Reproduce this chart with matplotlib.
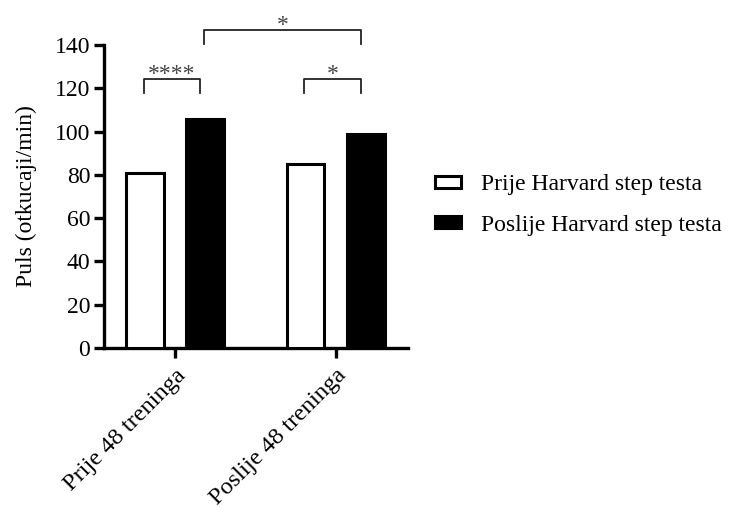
import matplotlib
matplotlib.use("Agg")
import matplotlib.pyplot as plt
import numpy as np

plt.rcParams["font.family"] = ["Liberation Serif", "DejaVu Serif"]

# ── data ──────────────────────────────────────────────────────────────────────
GROUPS = ["Prije 48 treninga", "Poslije 48 treninga"]
SERIES = ["Prije Harvard step testa", "Poslije Harvard step testa"]
PRIJE = [81, 85]
POSLIJE = [106, 99]

# (lijevi stupac, desni stupac, visina zagrade, oznaka)
BRACKETS = [
    ((0, 0), (0, 1), 124.5, "****"),
    ((1, 0), (1, 1), 124.5, "*"),
    ((0, 1), (1, 1), 147.0, "*"),
]

YTICKS = [0, 20, 40, 60, 80, 100, 120, 140]

# ── plot ──────────────────────────────────────────────────────────────────────
W, OFF = 0.235, 0.187
FS = 17

fig = plt.figure(figsize=(7.43, 5.07), dpi=100)
ax = fig.add_axes([0.140, 0.3136, 0.409, 0.5976])

x = np.arange(len(GROUPS))
ax.bar(x - OFF, PRIJE, W, color="white", edgecolor="black", linewidth=2.2,
       label=SERIES[0], zorder=3)
ax.bar(x + OFF, POSLIJE, W, color="black", edgecolor="black", linewidth=2.2,
       label=SERIES[1], zorder=3)

ax.set_xlim(-0.442, 1.450)
ax.set_ylim(0, 140)
ax.set_yticks(YTICKS)
ax.set_yticklabels([str(v) for v in YTICKS], fontsize=FS)
ax.set_xticks(x)
ax.set_xticklabels(GROUPS, fontsize=17.6, rotation=45, ha="right",
                   rotation_mode="anchor")
ax.set_ylabel("Puls (otkucaji/min)", fontsize=FS, labelpad=13)

for side in ["top", "right"]:
    ax.spines[side].set_visible(False)
for side in ["left", "bottom"]:
    ax.spines[side].set_linewidth(2.4)
ax.tick_params(axis="both", width=2.4, length=7, pad=3)
ax.tick_params(axis="x", pad=5)

# značajnost
def bar_x(g, s):
    return g + (OFF if s else -OFF)

for (g1, s1), (g2, s2), h, txt in BRACKETS:
    x1 = bar_x(g1, s1) - 0.008
    x2 = bar_x(g2, s2) - 0.03
    ax.plot([x1, x1, x2, x2], [h - 6.5, h, h, h - 6.5], color="#222",
            linewidth=1.3, clip_on=False, zorder=4)
    ax.text((x1 + x2) / 2, h - 3.0, txt, ha="center", va="bottom",
            fontsize=FS, color="#444", clip_on=False)

fig.legend(loc="center left", bbox_to_anchor=(0.586, 0.596), frameon=False,
           fontsize=FS, handlelength=1.1, handleheight=0.42,
           handletextpad=0.85, labelspacing=0.82, borderpad=0, borderaxespad=0)

fig.savefig("out.png", dpi=100)
